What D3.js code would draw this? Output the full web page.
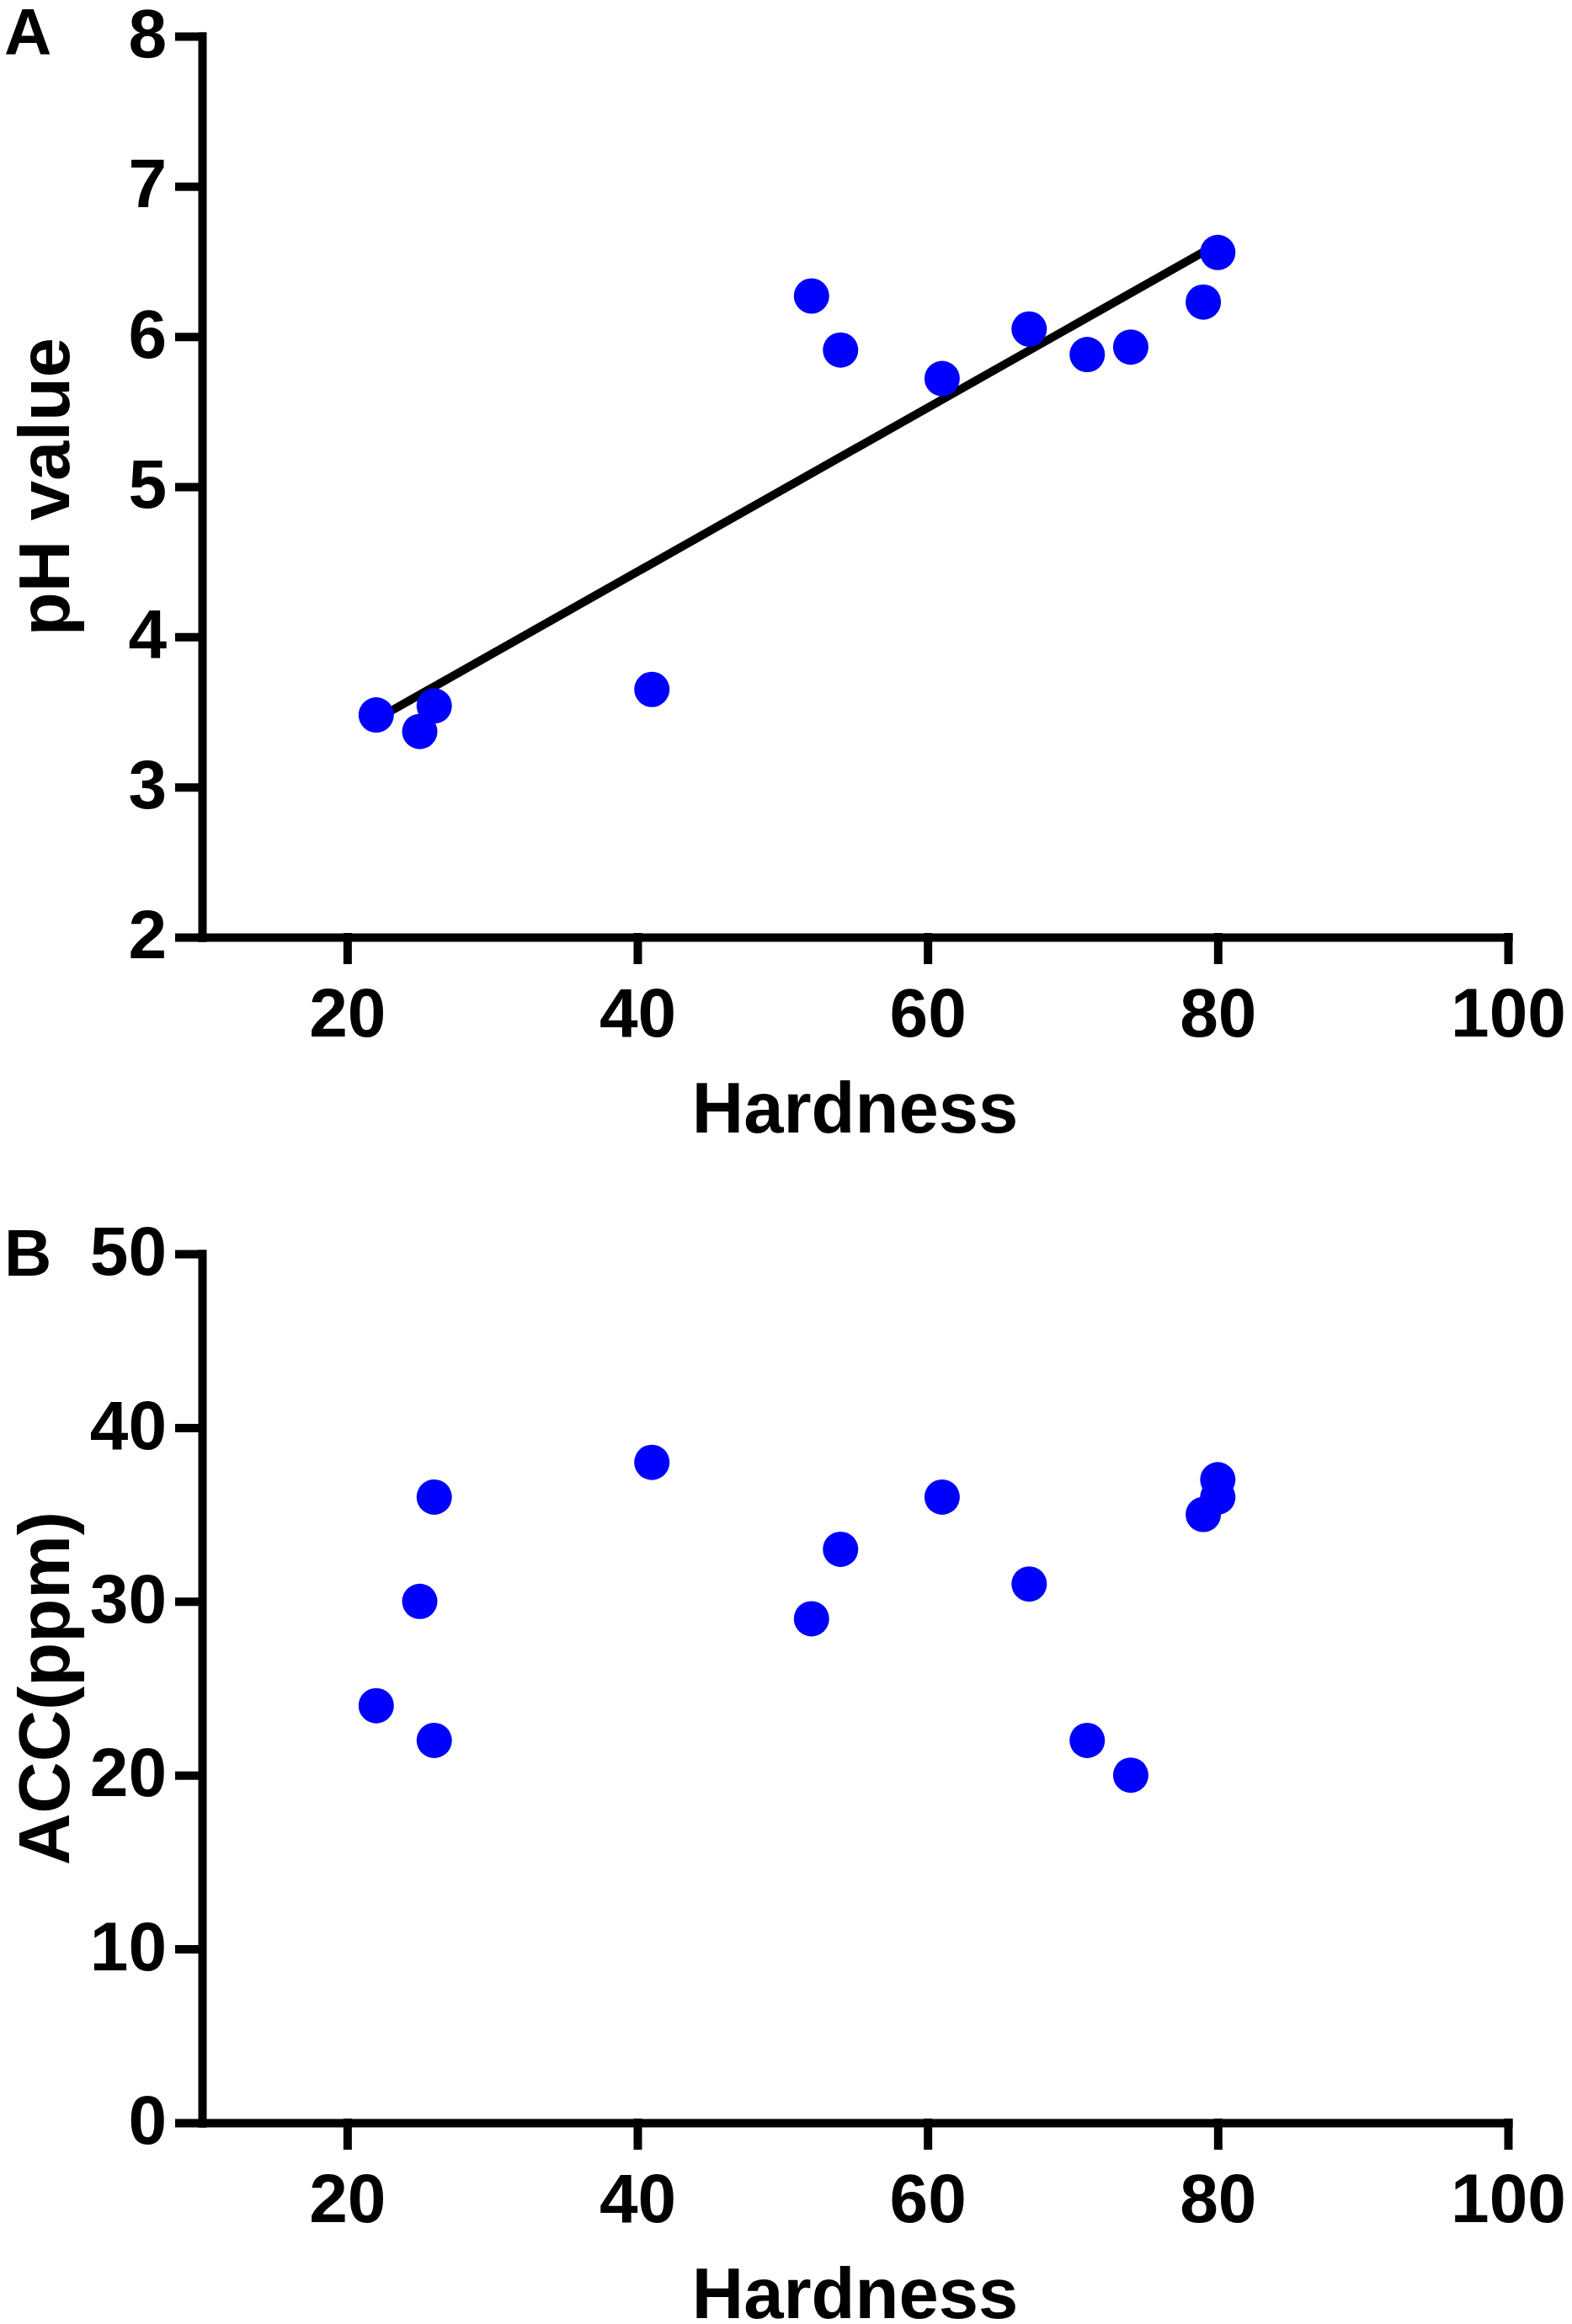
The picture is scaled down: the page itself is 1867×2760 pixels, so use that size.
<!DOCTYPE html>
<html>
<head>
<meta charset="utf-8">
<script src="https://cdn.jsdelivr.net/npm/d3@7"></script>
<style>
  html, body { margin: 0; padding: 0; background: #fff; }
  svg { display: block; }
  text { font-family: "Liberation Sans", Arial, sans-serif; font-weight: bold; fill: #000; }
</style>
</head>
<body>
<script>
// ---- Data ----
const hardnessA = [22, 25, 26, 41, 52, 54, 61, 67, 71, 74, 79, 80];
const phValues  = [3.48, 3.37, 3.54, 3.65, 6.27, 5.91, 5.72, 6.05, 5.88, 5.93, 6.23, 6.56];

const hardnessB = [22, 25, 26, 26, 41, 52, 54, 61, 67, 71, 74, 79, 80, 80];
const accValues = [24, 30, 36, 22, 38, 29, 33, 36, 31, 22, 20, 35, 36, 37];

const xTicks  = [20, 40, 60, 80, 100];
const yTicksA = [2, 3, 4, 5, 6, 7, 8];
const yTicksB = [0, 10, 20, 30, 40, 50];

// ---- Layout ----
const W = 1867, H = 2760;
const svg = d3.select("body").append("svg").attr("width", W).attr("height", H);

const xLeft = 240, xRight = 1791;
const tickLen = 27, tickFont = 82, titleFont = 85, lw = 10;
const dotR = 21, dotColor = "#0000FF";

function panel(opts) {
  const x = d3.scaleLinear().domain([10, 100]).range([xLeft, xRight]);
  const y = d3.scaleLinear().domain(opts.yDomain).range([opts.yBottom, opts.yTop]);
  const g = svg.append("g");

  // points
  g.append("g").selectAll("circle")
    .data(opts.xs.map((v, i) => [v, opts.ys[i]]))
    .join("circle")
    .attr("cx", d => x(d[0]))
    .attr("cy", d => y(d[1]))
    .attr("r", dotR)
    .attr("fill", dotColor);

  // regression line
  if (opts.fit) {
    const n = opts.xs.length;
    const mx = d3.mean(opts.xs), my = d3.mean(opts.ys);
    let sxy = 0, sxx = 0;
    for (let i = 0; i < n; i++) {
      sxy += (opts.xs[i] - mx) * (opts.ys[i] - my);
      sxx += (opts.xs[i] - mx) ** 2;
    }
    const b = sxy / sxx, a = my - b * mx;
    const [x0, x1] = d3.extent(opts.xs);
    g.insert("line", ":first-child")
      .attr("x1", x(x0)).attr("y1", y(a + b * x0))
      .attr("x2", x(x1)).attr("y2", y(a + b * x1))
      .attr("stroke", "#000").attr("stroke-width", lw);
  }

  // axes
  const fmt = d3.format("d");
  const xAxis = d3.axisBottom(x).tickValues(xTicks).tickFormat(fmt).tickSize(tickLen).tickSizeOuter(0).tickPadding(33);
  const yAxis = d3.axisLeft(y).tickValues(opts.yTicks).tickFormat(fmt).tickSize(tickLen).tickSizeOuter(0).tickPadding(15);

  const gx = g.append("g").attr("transform", `translate(0,${opts.yBottom})`).call(xAxis);
  const gy = g.append("g").attr("transform", `translate(${xLeft},0)`).call(yAxis);

  [gx, gy].forEach(ax => {
    ax.selectAll("path.domain").attr("stroke", "#000").attr("stroke-width", lw).attr("stroke-linecap", "square");
    ax.selectAll(".tick line").attr("stroke", "#000").attr("stroke-width", lw).attr("stroke-linecap", "square");
    ax.selectAll(".tick text").style("font-size", tickFont + "px").attr("fill", "#000")
      .style("font-family", '"Liberation Sans", Arial, sans-serif').style("font-weight", "bold");
  });
  gy.selectAll(".tick text").attr("dy", "0.30em");

  // axis titles
  g.append("text")
    .attr("x", (xLeft + xRight) / 2)
    .attr("y", opts.yBottom + 232)
    .attr("text-anchor", "middle")
    .style("font-size", titleFont + "px")
    .text("Hardness");

  g.append("text")
    .attr("transform", `translate(82,${(opts.yBottom + opts.yTop) / 2}) rotate(-90)`)
    .attr("text-anchor", "middle")
    .style("font-size", titleFont + "px")
    .text(opts.yTitle);

  // panel letter
  g.append("text")
    .attr("x", 5)
    .attr("y", opts.letterY)
    .style("font-size", "78px")
    .text(opts.letter);
}

panel({
  xs: hardnessA, ys: phValues, yDomain: [2, 8], yTicks: yTicksA,
  yBottom: 1113, yTop: 43, yTitle: "pH value", letter: "A", letterY: 65, fit: true
});

panel({
  xs: hardnessB, ys: accValues, yDomain: [0, 50], yTicks: yTicksB,
  yBottom: 2521, yTop: 1489, yTitle: "ACC(ppm)", letter: "B", letterY: 1515, fit: false
});
</script>
</body>
</html>
